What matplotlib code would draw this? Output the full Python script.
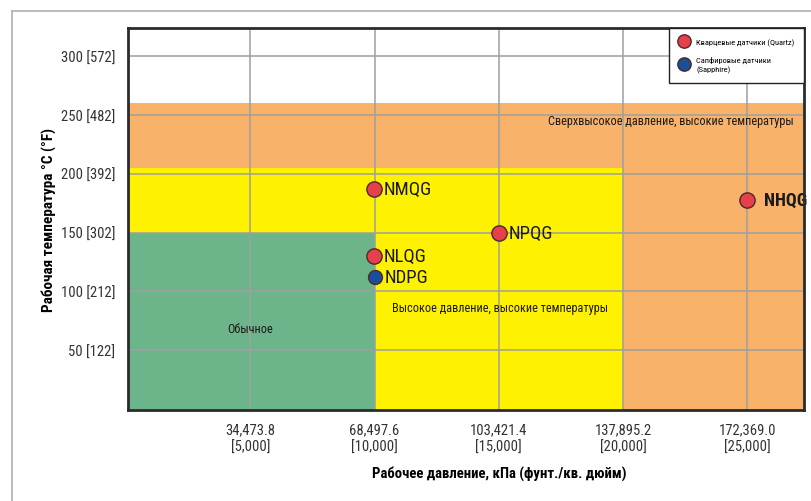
import matplotlib
matplotlib.use("Agg")
import matplotlib.pyplot as plt
from matplotlib.lines import Line2D
from matplotlib.patches import Rectangle

plt.rcParams['font.family'] = ['Roboto Condensed', 'DejaVu Sans']

# ---- data ----
x_ticks = [5000, 10000, 15000, 20000, 25000]
x_tick_labels = ["34,473.8\n[5,000]", "68,497.6\n[10,000]", "103,421.4\n[15,000]",
                 "137,895.2\n[20,000]", "172,369.0\n[25,000]"]
y_ticks = [50, 100, 150, 200, 250, 300]
y_tick_labels = ["50 [122]", "100 [212]", "150 [302]", "200 [392]", "250 [482]", "300 [572]"]

# regions: (x_max psi, y_max °C), drawn from largest to smallest
region_names = ["Сверхвысокое давление, высокие температуры",
                "Высокое давление, высокие температуры",
                "Обычное"]
region_xmax = [27300, 20000, 10000]
region_ymax = [260, 205, 150]
region_colors = ["#F8B26A", "#FFF200", "#6CB58A"]
region_label_x = [21930, 15050, 4990]
region_label_y = [245, 86, 68.6]

point_names = ["NMQG", "NLQG", "NDPG", "NPQG", "NHQG"]
point_x = [9960, 9960, 10000, 15000, 25000]
point_y = [187, 130, 112, 150, 178]
point_type = ["quartz", "quartz", "sapphire", "quartz", "quartz"]

W, H = 812, 502
fig = plt.figure(figsize=(W / 100, H / 100), dpi=100)
ax = fig.add_axes([127.7 / W, (H - 410.7) / H, (804.3 - 127.7) / W, (410.7 - 29.3) / H])
ax.set_xlim(60, 27300)
ax.set_ylim(-0.5, 323.5)

for xm, ym, c in zip(region_xmax, region_ymax, region_colors):
    ax.add_patch(Rectangle((0, -10), xm, ym + 10, facecolor=c, edgecolor='none', zorder=0.5))

ax.set_xticks(x_ticks)
ax.set_xticklabels(x_tick_labels, fontsize=10.5, color="#333333", linespacing=1.3)
ax.set_yticks(y_ticks)
ax.set_yticklabels(y_tick_labels, fontsize=10.5, color="#333333")
ax.tick_params(length=0)
ax.tick_params(axis='x', pad=9)
ax.tick_params(axis='y', pad=9)
ax.grid(True, color="#9f9f9f", linewidth=1.1, zorder=1)
ax.set_axisbelow(False)
for s in ax.spines.values():
    s.set_linewidth(2.0)
    s.set_color("#2b2b2b")
    s.set_zorder(5)

# region labels
for name, lx, ly in zip(region_names, region_label_x, region_label_y):
    ax.text(lx, ly, name, fontsize=8.8, ha='center', va='center', color="#1a1a1a", zorder=3)

colors = {"quartz": "#E8404A", "sapphire": "#1C4D99"}
sizes = {"quartz": 11.0, "sapphire": 10.0}
for n, x, y, t in zip(point_names, point_x, point_y, point_type):
    ax.plot([x], [y], 'o', markersize=sizes[t], markerfacecolor=colors[t],
            markeredgecolor="#4a2a2a", markeredgewidth=1.0, zorder=4)
    bold = (n == "NHQG")
    ax.text(x + (660 if bold else 390), y, n, fontsize=13.5 if not bold else 13,
            fontweight='bold' if bold else 'normal', ha='left', va='center',
            color="#1a1a1a", zorder=4)

ax.set_xlabel("Рабочее давление, кПа (фунт./кв. дюйм)", fontsize=10.6, fontweight='bold',
              labelpad=9, x=0.549)
ax.set_ylabel("Рабочая температура °C (°F)", fontsize=11, fontweight='bold', labelpad=3)

handles = [Line2D([], [], marker='o', linestyle='none', markersize=9.6,
                  markerfacecolor=colors["quartz"], markeredgecolor="#4a2a2a"),
           Line2D([], [], marker='o', linestyle='none', markersize=9.6,
                  markerfacecolor=colors["sapphire"], markeredgecolor="#4a2a2a")]
leg = ax.legend(handles, ["Кварцевые датчики (Quartz)", "Сапфировые датчики\n(Sapphire)"],
                loc='upper right', bbox_to_anchor=(1.0, 1.0), fontsize=6.0, frameon=True,
                fancybox=False, framealpha=1, edgecolor="#222222", borderpad=1.2,
                handletextpad=0.75, labelspacing=1.2, handlelength=1.35, borderaxespad=0.0)
for t in leg.get_texts():
    t.set_linespacing(1.45)
leg.get_frame().set_linewidth(1.0)
leg.set_zorder(6)

# outer figure frame lines
fig.add_artist(Line2D([12 / W, 811 / W], [(H - 12) / H, (H - 12) / H], color="#b0b0b0", linewidth=1.2))
fig.add_artist(Line2D([12 / W, 12 / W], [(H - 12) / H, 0], color="#b0b0b0", linewidth=1.2))

fig.savefig("out.png", dpi=100)
